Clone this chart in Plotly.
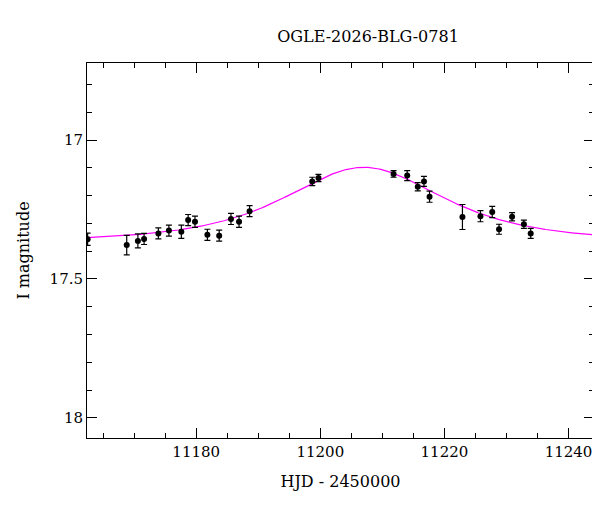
import numpy as np
import plotly.graph_objects as go

hjd = [11162.5, 11168.8, 11170.6, 11171.6, 11173.9, 11175.6, 11177.6, 11178.7, 11179.8,
       11181.8, 11183.7, 11185.6, 11186.9, 11188.6, 11198.7, 11199.7, 11211.8, 11214.0,
       11215.7, 11216.7, 11217.6, 11222.9, 11225.8, 11227.7, 11228.8, 11230.9, 11232.8, 11233.9]
mag = [17.357, 17.378, 17.363, 17.356, 17.336, 17.326, 17.330, 17.288, 17.294,
       17.341, 17.344, 17.284, 17.294, 17.256, 17.149, 17.137, 17.122, 17.128,
       17.168, 17.149, 17.204, 17.277, 17.274, 17.259, 17.321, 17.276, 17.303, 17.336]
err = [0.022, 0.035, 0.025, 0.020, 0.020, 0.020, 0.024, 0.020, 0.020,
       0.020, 0.020, 0.020, 0.020, 0.020, 0.015, 0.013, 0.012, 0.018,
       0.015, 0.018, 0.020, 0.045, 0.020, 0.020, 0.018, 0.015, 0.015, 0.018]

# Paczynski point-lens model parameters
t0, tE, u0, I0 = 11207.0, 14.6, 1.1, 17.365
t = np.linspace(11162.4, 11244.1, 600)
u = np.sqrt(u0**2 + ((t - t0) / tE) ** 2)
A = (u**2 + 2) / (u * np.sqrt(u**2 + 4))
model = I0 - 2.5 * np.log10(A)

font = "DejaVu Serif"
fig = go.Figure()
fig.add_trace(go.Scatter(x=t, y=model, mode="lines", line=dict(color="#ff00ff", width=1.2),
                         hoverinfo="skip"))
fig.add_trace(go.Scatter(x=hjd, y=mag, mode="markers",
                         marker=dict(color="black", size=6),
                         error_y=dict(type="data", array=err, color="black", thickness=1.2, width=3)))
axis_common = dict(showgrid=False, zeroline=False, showline=True, linecolor="black", linewidth=1,
                   mirror="allticks", ticks="inside", ticklen=10, tickcolor="black",
                   tickfont=dict(family=font, size=15, color="black"))
fig.update_xaxes(range=[11162.4, 11244.1], dtick=20, tick0=11180, tickformat="d",
                 minor=dict(ticks="inside", ticklen=5, dtick=5, tick0=11180, tickcolor="black"),
                 title=dict(text="HJD - 2450000", font=dict(family=font, size=16, color="black")),
                 **axis_common)
fig.update_yaxes(range=[18.072, 16.723], dtick=0.5, tick0=17,
                 minor=dict(ticks="inside", ticklen=5, dtick=0.1, tick0=17, tickcolor="black"),
                 title=dict(text="I magnitude", font=dict(family=font, size=16, color="black")),
                 **axis_common)
fig.update_layout(width=600, height=512, plot_bgcolor="white", paper_bgcolor="white",
                  showlegend=False, margin=dict(l=79, r=14, t=55, b=82),
                  title=dict(text="OGLE-2026-BLG-0781", x=0.6, xanchor="center", y=0.955,
                             font=dict(family=font, size=16, color="black")))
fig.write_html("out.html")
